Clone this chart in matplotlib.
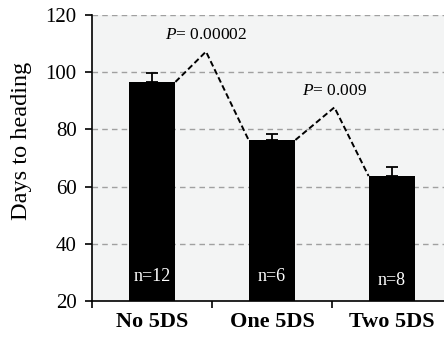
import matplotlib.pyplot as plt

# data
groups = ["No 5DS", "One 5DS", "Two 5DS"]
days = [96.6, 76.3, 63.7]
errs = [3.1, 2.0, 3.0]
n_labels = ["n=12", "n=6", "n=8"]
n_y = [28.4, 28.4, 27.3]
p_labels = ["0.00002", "0.009"]
p_peak = [107.2, 87.7]
p_peak_x = [0.45, 1.52]
p_text_y = [113.0, 93.5]

plt.rcParams["font.family"] = ["Liberation Serif", "DejaVu Serif"]
plt.rcParams["mathtext.fontset"] = "custom"
plt.rcParams["mathtext.rm"] = "Liberation Serif"
plt.rcParams["mathtext.it"] = "Liberation Serif:italic"

fig = plt.figure(figsize=(4.44, 3.41), dpi=100)
ax = fig.add_axes([92 / 444, 40 / 341, 360 / 444, 286 / 341])
ax.set_facecolor("#f3f4f4")

width = 0.39
x = list(range(len(groups)))
ax.bar(x, days, width=width, color="black", zorder=3)
ax.errorbar(x, days, yerr=[[0] * len(errs), errs], fmt="none",
            ecolor="black", elinewidth=1.3, capsize=4, capthick=1.3, zorder=2)

for xi, label, ny in zip(x, n_labels, n_y):
    ax.text(xi, ny, label, color="white", ha="center", va="center",
            fontsize=13, zorder=4)

# dashed connectors between bars with p-values
for i in range(len(p_labels)):
    xs = [x[i] + width / 2, p_peak_x[i], x[i + 1] - width / 2]
    ys = [days[i], p_peak[i], days[i + 1]]
    ax.plot(xs, ys, ls=(0, (3, 1.6)), color="black", lw=1.4, zorder=4)
    ax.text(p_peak_x[i], p_text_y[i], "$\\it{P}$= " + p_labels[i],
            ha="center", va="center", fontsize=12.5, zorder=4)

ax.set_xlim(-0.5, 2.5)
ax.set_ylim(20, 120)
ax.set_yticks([20, 40, 60, 80, 100, 120])
ax.set_xticks([-0.5, 0.5, 1.5, 2.5], minor=False)
ax.set_xticklabels([])
ax.set_xticks(x, minor=True)
ax.set_xticklabels(groups, minor=True, fontweight="bold", fontsize=16)
ax.tick_params(axis="x", which="minor", length=0, pad=8)
ax.tick_params(axis="x", which="major", length=5, direction="out", width=1.2)
ax.tick_params(axis="y", labelsize=15, length=5, direction="out", width=1.2,
               pad=6)

for yv in [40, 60, 80, 100, 120]:
    ax.axhline(yv, color="#a0a0a0", ls=(0, (4, 3)), lw=1.0, zorder=1)

ax.spines["top"].set_visible(False)
ax.spines["right"].set_visible(False)
ax.spines["left"].set_linewidth(1.2)
ax.spines["bottom"].set_linewidth(1.2)

ax.set_ylabel("Days to heading", fontsize=17.5)
ax.yaxis.set_label_coords(-60 / 360, 0.56)

fig.savefig("out.png", dpi=100)
